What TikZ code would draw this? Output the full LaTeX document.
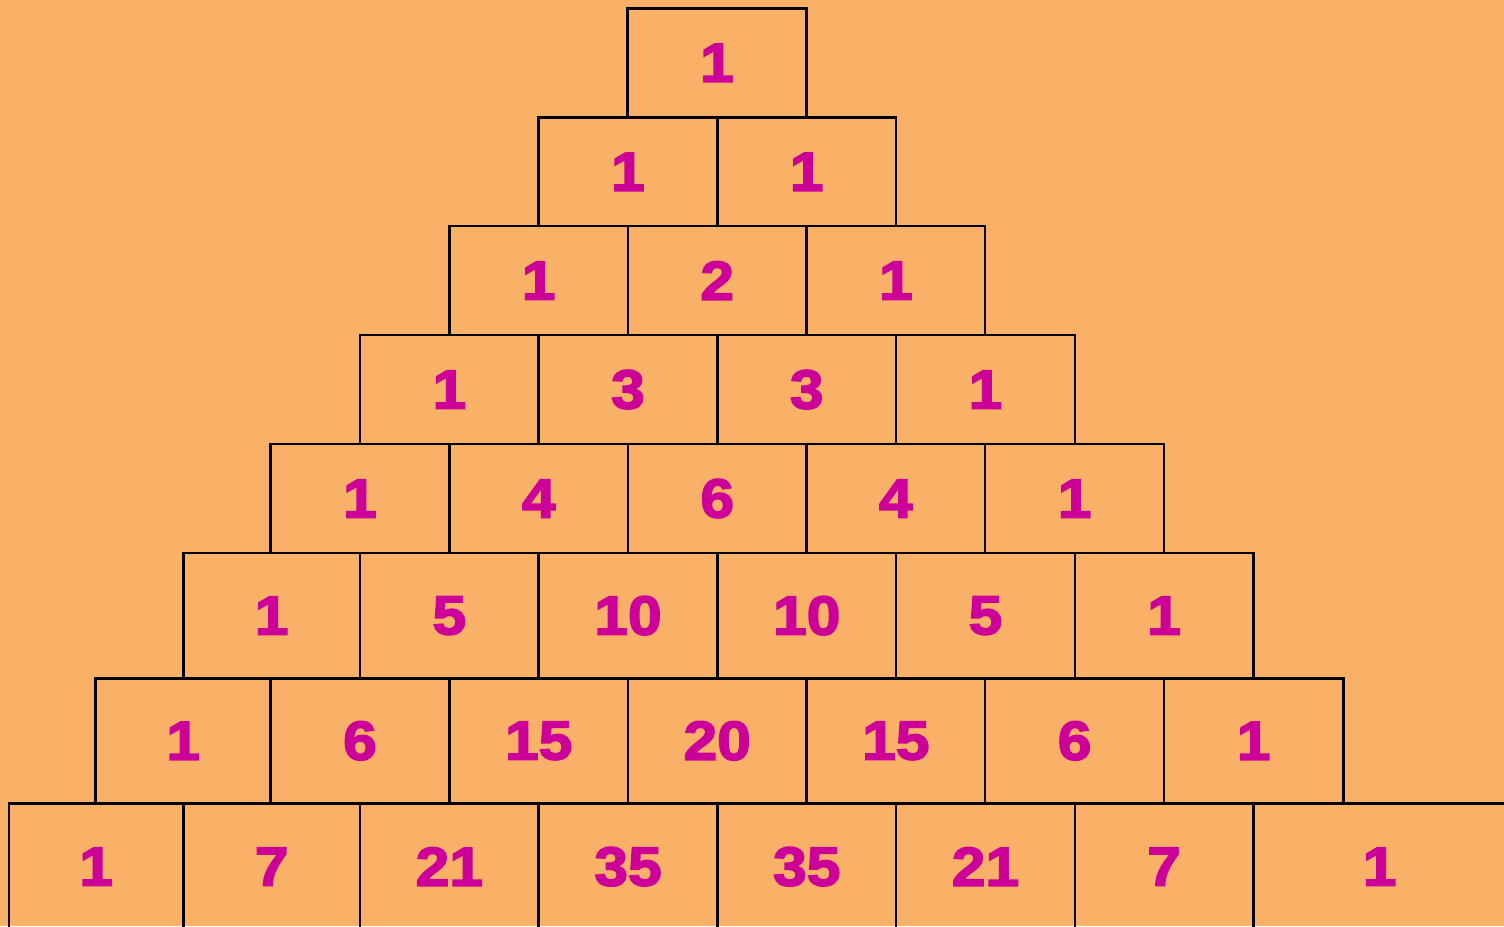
\documentclass[tikz,border=0pt]{standalone}
\usepackage{fontspec}
\newfontfamily\numfont{Liberation Sans Bold}[FakeBold=3, FakeStretch=1.1]
\definecolor{bgorange}{RGB}{249,177,104}
\definecolor{nummag}{RGB}{204,0,153}
\tikzset{
  cell/.style={draw=black, line width=2.5pt, rectangle, inner sep=0pt,
    font=\numfont\fontsize{55}{60}\selectfont, text=nummag},
}
\newcommand\pcell[6]{%
  \node[cell, minimum width={(#4-#2)*1pt}, minimum height={(#5-#3)*1pt}]
    (#1) at ({(#2+#4)/2},{(#3+#5)/2}) {#6};}
\begin{document}
\begin{tikzpicture}[x=1pt,y=-1pt]
\fill[bgorange] (0,0) rectangle (1504,926);
\useasboundingbox (0,0) rectangle (1504,926);
\clip (0,0) rectangle (1504,926);
% row 0
\pcell{r0a}{627.5}{8.5}{806.5}{117.3}{1}
% row 1
\pcell{r1a}{538.7}{117.3}{717.3}{226.2}{1}
\pcell{r1b}{717.3}{117.3}{896.2}{226.2}{1}
% row 2
\pcell{r2a}{449.5}{226.2}{628}{335.1}{1}
\pcell{r2b}{628}{226.2}{806.5}{335.1}{2}
\pcell{r2c}{806.5}{226.2}{985.2}{335.1}{1}
% row 3
\pcell{r3a}{360}{335.1}{538.7}{444}{1}
\pcell{r3b}{538.7}{335.1}{717.3}{444}{3}
\pcell{r3c}{717.3}{335.1}{896.2}{444}{3}
\pcell{r3d}{896.2}{335.1}{1074.8}{444}{1}
% row 4
\pcell{r4a}{270.5}{444}{449.5}{553}{1}
\pcell{r4b}{449.5}{444}{628}{553}{4}
\pcell{r4c}{628}{444}{806.5}{553}{6}
\pcell{r4d}{806.5}{444}{985.2}{553}{4}
\pcell{r4e}{985.2}{444}{1164}{553}{1}
% row 5
\pcell{r5a}{183.3}{553}{360}{678.3}{1}
\pcell{r5b}{360}{553}{538.7}{678.3}{5}
\pcell{r5c}{538.7}{553}{717.3}{678.3}{10}
\pcell{r5d}{717.3}{553}{896.2}{678.3}{10}
\pcell{r5e}{896.2}{553}{1074.8}{678.3}{5}
\pcell{r5f}{1074.8}{553}{1253.3}{678.3}{1}
% row 6
\pcell{r6a}{95.7}{678.3}{270.5}{803.3}{1}
\pcell{r6b}{270.5}{678.3}{449.5}{803.3}{6}
\pcell{r6c}{449.5}{678.3}{628}{803.3}{15}
\pcell{r6d}{628}{678.3}{806.5}{803.3}{20}
\pcell{r6e}{806.5}{678.3}{985.2}{803.3}{15}
\pcell{r6f}{985.2}{678.3}{1164}{803.3}{6}
\pcell{r6g}{1164}{678.3}{1343.3}{803.3}{1}
% row 7
\pcell{r7a}{9}{803.3}{183.3}{930}{1}
\pcell{r7b}{183.3}{803.3}{360}{930}{7}
\pcell{r7c}{360}{803.3}{538.7}{930}{21}
\pcell{r7d}{538.7}{803.3}{717.3}{930}{35}
\pcell{r7e}{717.3}{803.3}{896.2}{930}{35}
\pcell{r7f}{896.2}{803.3}{1074.8}{930}{21}
\pcell{r7g}{1074.8}{803.3}{1253.3}{930}{7}
\pcell{r7h}{1253.3}{803.3}{1506}{930}{1}
\end{tikzpicture}
\end{document}
